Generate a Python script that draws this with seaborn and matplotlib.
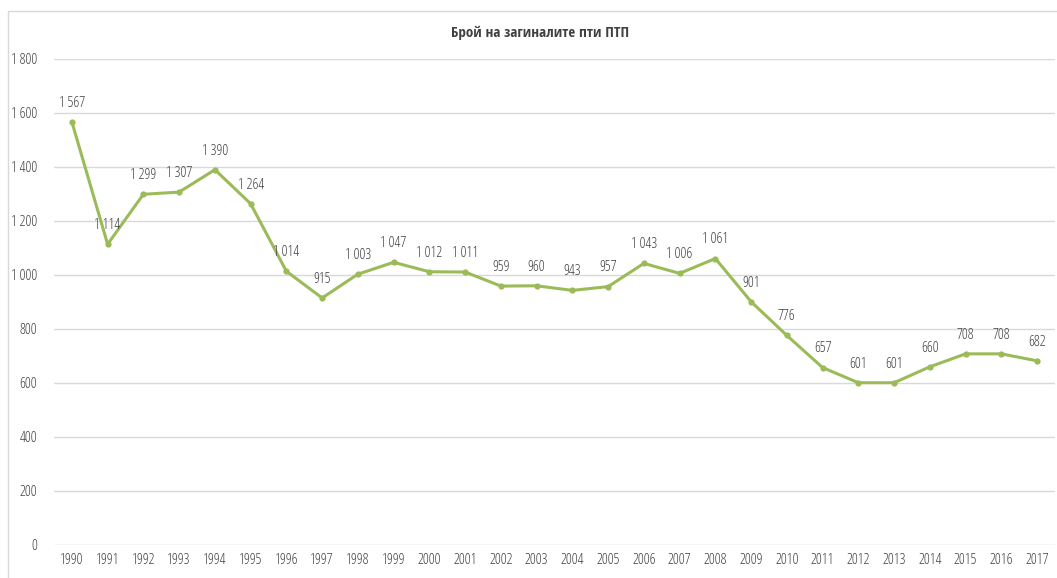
import matplotlib
matplotlib.use("Agg")
import matplotlib.pyplot as plt
from matplotlib.font_manager import FontProperties
from matplotlib.patches import Rectangle
import seaborn as sns
import pandas as pd

years = list(range(1990, 2018))
deaths = [1567, 1114, 1299, 1307, 1390, 1264, 1014, 915, 1003, 1047,
          1012, 1011, 959, 960, 943, 957, 1043, 1006, 1061, 901,
          776, 657, 601, 601, 660, 708, 708, 682]
title = "Брой на загиналите пти ПТП"
y_ticks = [0, 200, 400, 600, 800, 1000, 1200, 1400, 1600, 1800]

sns.set_theme(style="white")
plt.rcParams["font.family"] = ["Open Sans", "DejaVu Sans"]

GREEN = "#9BBB59"
TEXT = "#404040"

label_font = FontProperties(family="Open Sans", stretch="condensed", weight=300, size=10.5)
title_font = FontProperties(family="Open Sans Condensed", weight=700, size=10.8)


def fmt(v):
    return f"{v:,}".replace(",", " ")


df = pd.DataFrame({"pos": range(len(years)), "year": years, "deaths": deaths})

fig = plt.figure(figsize=(10.57, 5.78), dpi=100)
fig.patches.append(Rectangle((8 / 1057, -0.1), 1.2, (578 - 11) / 578 + 0.1,
                             transform=fig.transFigure, fill=False,
                             edgecolor="#D9D9D9", linewidth=1.0))

ax = fig.add_axes([54 / 1057, (578 - 545) / 578, (1055 - 54) / 1057, (545 - 59) / 578])
sns.lineplot(data=df, x="pos", y="deaths", ax=ax, color=GREEN, linewidth=2.2,
             marker="o", markersize=4.5, markeredgewidth=0, markerfacecolor=GREEN)

ax.set_xlim(-0.5, len(years) - 0.5)
ax.set_ylim(0, 1800)
ax.set_yticks(y_ticks)
ax.set_yticklabels([fmt(v) for v in y_ticks])
ax.set_xticks(range(len(years)))
ax.set_xticklabels([str(y) for y in years])
for lbl in ax.get_xticklabels() + ax.get_yticklabels():
    lbl.set_fontproperties(label_font)
    lbl.set_color(TEXT)
ax.tick_params(axis="both", length=0)
ax.tick_params(axis="x", pad=6)
ax.tick_params(axis="y", pad=12)
ax.set_xlabel("")
ax.set_ylabel("")
ax.grid(axis="y", color="#D9D9D9", linewidth=1.0)
ax.set_axisbelow(True)
for s in ax.spines.values():
    s.set_visible(False)

for p, v in zip(df["pos"], df["deaths"]):
    ax.annotate(fmt(v), (p, v), xytext=(0, 8), textcoords="offset points",
                ha="center", va="bottom", fontproperties=label_font, color=TEXT)

fig.text(540 / 1057, 1 - 33 / 578, title, ha="center", va="center",
         fontproperties=title_font, color=TEXT)

fig.savefig("out.png", dpi=100)
